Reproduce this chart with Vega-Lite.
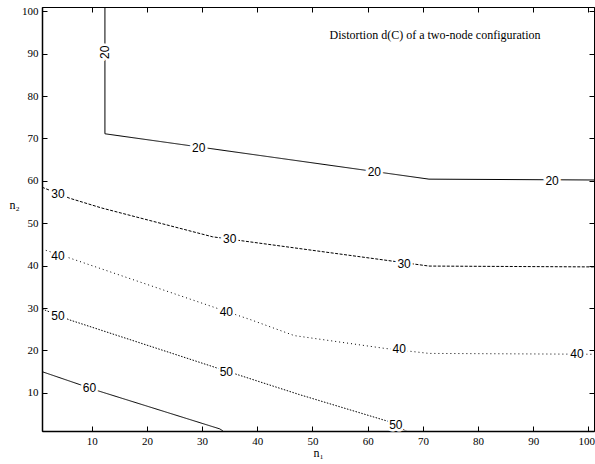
{
  "$schema": "https://vega.github.io/schema/vega-lite/v6.json",
  "width": 552,
  "height": 424,
  "autosize": {"type": "none"},
  "padding": {"left": 42, "top": 7, "right": 1, "bottom": 33},
  "background": "white",
  "config": {
    "view": {"stroke": "black", "strokeWidth": 1},
    "axis": {
      "grid": false,
      "domainColor": "black",
      "domainWidth": 1.5,
      "tickColor": "black",
      "tickSize": -5,
      "labelPadding": 9,
      "labelFont": "Liberation Serif",
      "labelFontSize": 11,
      "labelColor": "black",
      "titleFont": "Liberation Serif",
      "titleFontSize": 12,
      "titleFontWeight": "normal",
      "titleColor": "black"
    }
  },
  "datasets": {
    "contours": [
      {"level": "20", "i": 0, "n1": 12.4, "n2": 101},
      {"level": "20", "i": 1, "n1": 12.4, "n2": 71.1},
      {"level": "20", "i": 2, "n1": 71.1, "n2": 60.4},
      {"level": "20", "i": 3, "n1": 101, "n2": 60.2},
      {"level": "30", "i": 0, "n1": 1, "n2": 58.5},
      {"level": "30", "i": 1, "n1": 6.0, "n2": 55.9},
      {"level": "30", "i": 2, "n1": 11.8, "n2": 53.6},
      {"level": "30", "i": 3, "n1": 31.9, "n2": 46.8},
      {"level": "30", "i": 4, "n1": 71.1, "n2": 39.9},
      {"level": "30", "i": 5, "n1": 101, "n2": 39.7},
      {"level": "40", "i": 0, "n1": 1, "n2": 43.9},
      {"level": "40", "i": 1, "n1": 6.0, "n2": 41.8},
      {"level": "40", "i": 2, "n1": 31.9, "n2": 30.3},
      {"level": "40", "i": 3, "n1": 38.9, "n2": 27.2},
      {"level": "40", "i": 4, "n1": 46.7, "n2": 23.5},
      {"level": "40", "i": 5, "n1": 63.0, "n2": 20.5},
      {"level": "40", "i": 6, "n1": 71.1, "n2": 19.3},
      {"level": "40", "i": 7, "n1": 101, "n2": 19.1},
      {"level": "50", "i": 0, "n1": 1, "n2": 29.8},
      {"level": "50", "i": 1, "n1": 6.0, "n2": 27.2},
      {"level": "50", "i": 2, "n1": 32.6, "n2": 15.9},
      {"level": "50", "i": 3, "n1": 47.6, "n2": 9.6},
      {"level": "50", "i": 4, "n1": 63.9, "n2": 3.2},
      {"level": "50", "i": 5, "n1": 67.0, "n2": 1},
      {"level": "60", "i": 0, "n1": 1, "n2": 15.0},
      {"level": "60", "i": 1, "n1": 11.1, "n2": 10.5},
      {"level": "60", "i": 2, "n1": 33.2, "n2": 1.5},
      {"level": "60", "i": 3, "n1": 33.8, "n2": 1}
    ],
    "labels": [
      {"level": "20", "n1": 12.4, "n2": 90.3},
      {"level": "20", "n1": 29.4, "n2": 67.7},
      {"level": "20", "n1": 61.2, "n2": 62.1},
      {"level": "20", "n1": 93.4, "n2": 59.9},
      {"level": "30", "n1": 3.9, "n2": 56.9},
      {"level": "30", "n1": 35.0, "n2": 46.3},
      {"level": "30", "n1": 66.6, "n2": 40.4},
      {"level": "40", "n1": 3.9, "n2": 42.3},
      {"level": "40", "n1": 34.4, "n2": 29.1},
      {"level": "40", "n1": 65.7, "n2": 20.4},
      {"level": "40", "n1": 97.9, "n2": 19.2},
      {"level": "50", "n1": 3.9, "n2": 28.2},
      {"level": "50", "n1": 34.4, "n2": 14.9},
      {"level": "50", "n1": 65.1, "n2": 2.4},
      {"level": "60", "n1": 9.6, "n2": 11.2}
    ],
    "note": [
      {"n1": 72.2, "n2": 94.4, "text": "Distortion d(C) of a two-node configuration"}
    ]
  },
  "layer": [
    {
      "data": {"name": "contours"},
      "mark": {"type": "line", "strokeWidth": 1, "color": "black", "clip": true},
      "encoding": {
        "x": {"field": "n1", "type": "quantitative", "scale": {"domain": [1, 101], "nice": false, "zero": false},
              "axis": {"orient": "bottom", "values": [10, 20, 30, 40, 50, 60, 70, 80, 90, 100], "title": "n₁", "titlePadding": 1, "labelFlush": 10, "labelFlushOffset": 6}},
        "y": {"field": "n2", "type": "quantitative", "scale": {"domain": [1, 101], "nice": false, "zero": false},
              "axis": {"orient": "left", "values": [10, 20, 30, 40, 50, 60, 70, 80, 90, 100], "title": "n₂", "titleAngle": 0, "titleX": -28, "titleY": 197, "titleAlign": "center", "titleBaseline": "middle"}},
        "detail": {"field": "level", "type": "nominal"},
        "order": {"field": "i", "type": "quantitative"},
        "strokeDash": {"field": "level", "type": "nominal",
                       "scale": {"domain": ["20", "30", "40", "50", "60"], "range": [[1, 0], [3, 1.5], [1, 3], [1.5, 1.5], [1, 0]]},
                       "legend": null}
      }
    },
    {
      "data": {"name": "labels"},
      "mark": {"type": "text", "font": "Liberation Sans", "fontSize": 12, "fill": "white", "stroke": "white", "strokeWidth": 5, "align": "center", "baseline": "middle"},
      "encoding": {
        "x": {"field": "n1", "type": "quantitative", "scale": {"domain": [1, 101], "nice": false, "zero": false},
              "axis": {"orient": "top", "values": [10, 20, 30, 40, 50, 60, 70, 80, 90, 100], "labels": false, "title": null, "domainWidth": 1}},
        "y": {"field": "n2", "type": "quantitative", "scale": {"domain": [1, 101], "nice": false, "zero": false},
              "axis": {"orient": "right", "values": [10, 20, 30, 40, 50, 60, 70, 80, 90, 100], "labels": false, "title": null, "domainWidth": 1}},
        "text": {"field": "level", "type": "nominal"},
        "angle": {"condition": {"test": "datum.n2 > 80", "value": 270}, "value": 0}
      }
    },
    {
      "data": {"name": "labels"},
      "mark": {"type": "text", "font": "Liberation Sans", "fontSize": 12, "color": "black", "align": "center", "baseline": "middle"},
      "encoding": {
        "x": {"field": "n1", "type": "quantitative", "scale": {"domain": [1, 101], "nice": false, "zero": false}, "axis": null},
        "y": {"field": "n2", "type": "quantitative", "scale": {"domain": [1, 101], "nice": false, "zero": false}, "axis": null},
        "text": {"field": "level", "type": "nominal"},
        "angle": {"condition": {"test": "datum.n2 > 80", "value": 270}, "value": 0}
      }
    },
    {
      "data": {"name": "note"},
      "mark": {"type": "text", "font": "Liberation Serif", "fontSize": 12, "color": "black", "align": "center", "baseline": "middle"},
      "encoding": {
        "x": {"field": "n1", "type": "quantitative", "scale": {"domain": [1, 101], "nice": false, "zero": false}, "axis": null},
        "y": {"field": "n2", "type": "quantitative", "scale": {"domain": [1, 101], "nice": false, "zero": false}, "axis": null},
        "text": {"field": "text", "type": "nominal"}
      }
    }
  ],
  "resolve": {"axis": {"x": "independent", "y": "independent"}}
}
